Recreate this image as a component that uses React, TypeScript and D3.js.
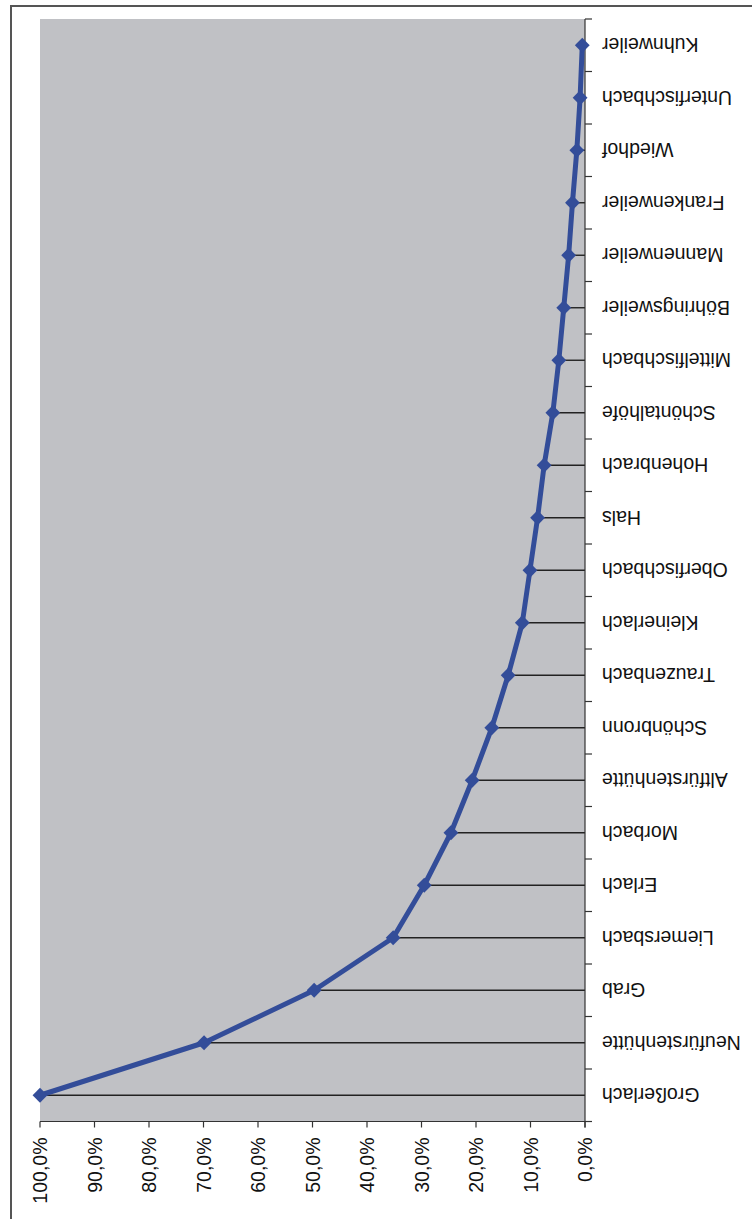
import { line, range, scaleBand, scaleLinear, symbol, symbolSquare } from 'd3'

const places = [
  'Großerlach', 'Neufürstenhütte', 'Grab', 'Liemersbach', 'Erlach', 'Morbach',
  'Altfürstenhütte', 'Schönbronn', 'Trauzenbach', 'Kleinerlach', 'Oberfischbach',
  'Hals', 'Hohenbrach', 'Schöntalhöfe', 'Mittelfischbach', 'Böhringsweiler',
  'Mannenweiler', 'Frankenweiler', 'Wiedhof', 'Unterfischbach', 'Kuhnweiler',
]
const shares = [
  100, 69.9, 49.7, 35.2, 29.5, 24.6, 20.7, 17.1, 14.1, 11.5, 10.1,
  8.7, 7.5, 5.9, 4.8, 3.9, 3.0, 2.3, 1.5, 0.9, 0.5,
]
const tickValues = [0, 10, 20, 30, 40, 50, 60, 70, 80, 90, 100]

const fmt = (v: number) => v.toFixed(1).replace('.', ',') + '%'

export default function App() {
  const plot = { left: 40, right: 585, top: 19, bottom: 1121.5 }
  const font = '"Liberation Sans", Arial, sans-serif'

  // value axis runs right-to-left, categories top-to-bottom (Kuhnweiler first)
  const x = scaleLinear().domain([0, 100]).range([plot.right, plot.left])
  const y = scaleBand()
    .domain([...places].reverse())
    .range([plot.top, plot.bottom])
    .padding(0)
  const cy = (p: string) => (y(p) ?? 0) + y.bandwidth() / 2

  const pts = places.map((p, i) => ({ p, v: shares[i] }))
  const path = line<{ p: string; v: number }>()
    .x((d) => x(d.v))
    .y((d) => cy(d.p))(pts)
  // square turned 45° makes the diamond marker
  const marker = symbol().type(symbolSquare).size(110)()

  return (
    <svg
      width={752}
      height={1219}
      style={{ position: 'absolute', left: 0, top: 0, background: '#fff' }}
    >
      <rect x={11} y={6} width={800} height={1300} fill="none" stroke="#555" strokeWidth={2} />
      <rect
        x={plot.left}
        y={plot.top}
        width={plot.right - plot.left}
        height={plot.bottom - plot.top}
        fill="#c0c1c5"
      />

      {/* drop lines */}
      {pts.map((d) => (
        <line
          key={`drop-${d.p}`}
          x1={plot.right}
          x2={x(d.v)}
          y1={cy(d.p)}
          y2={cy(d.p)}
          stroke="#222"
          strokeWidth={1.4}
        />
      ))}

      {/* category axis */}
      <line x1={plot.right} x2={plot.right} y1={plot.top} y2={plot.bottom + 6} stroke="#333" strokeWidth={1.2} />
      {range(places.length + 1).map((i) => (
        <line
          key={`ct-${i}`}
          x1={plot.right}
          x2={plot.right + 7}
          y1={plot.top + i * y.bandwidth()}
          y2={plot.top + i * y.bandwidth()}
          stroke="#333"
          strokeWidth={1.2}
        />
      ))}
      {places.map((p) => (
        <text
          key={`cl-${p}`}
          transform={`translate(602,${cy(p)}) rotate(180)`}
          textAnchor="end"
          dominantBaseline="central"
          fontFamily={font}
          fontSize={19.5}
          fill="#111"
        >
          {p}
        </text>
      ))}

      {/* value axis */}
      <line x1={plot.left} x2={plot.right + 7} y1={plot.bottom} y2={plot.bottom} stroke="#333" strokeWidth={1.2} />
      {tickValues.map((t) => (
        <g key={`vt-${t}`}>
          <line x1={x(t)} x2={x(t)} y1={plot.bottom} y2={plot.bottom + 6} stroke="#333" strokeWidth={1.2} />
          <text
            transform={`translate(${x(t)},${plot.bottom + 16}) rotate(-90)`}
            textAnchor="end"
            dominantBaseline="central"
            fontFamily={font}
            fontSize={19.5}
            fill="#111"
          >
            {fmt(t)}
          </text>
        </g>
      ))}

      <path d={path ?? ''} fill="none" stroke="#334d99" strokeWidth={5} strokeLinejoin="round" />
      {pts.map((d) => (
        <path
          key={`m-${d.p}`}
          d={marker ?? ''}
          transform={`translate(${x(d.v)},${cy(d.p)}) rotate(45)`}
          fill="#334d99"
        />
      ))}
    </svg>
  )
}
